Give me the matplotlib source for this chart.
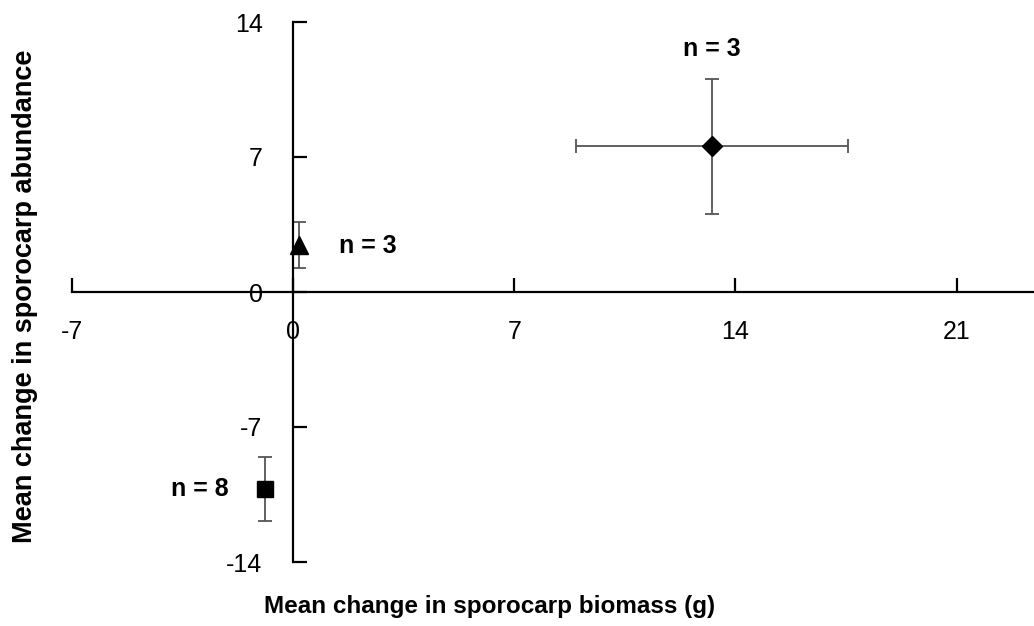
import numpy as np
import matplotlib.pyplot as plt

plt.rcParams['font.family'] = ['Liberation Sans', 'DejaVu Sans']

# data
biomass = [13.25, 0.2, -0.9]
biomass_err = [4.3, 0.0, 0.0]
abundance = [7.55, 2.45, -10.2]
abundance_err = [3.5, 1.2, 1.65]
markers = ['D', '^', 's']
n_labels = ['n = 3', 'n = 3', 'n = 8']
label_pos = [(13.25, 12.6), (2.37, 2.4), (-2.95, -10.2)]

fig = plt.figure(figsize=(10.34, 6.26), dpi=100)
ax = fig.add_axes([72/1034, 1 - 562/626, 1 - 72/1034, (562 - 22)/626])

for x, xe, y, ye, m in zip(biomass, biomass_err, abundance, abundance_err, markers):
    ax.errorbar(x, y, xerr=xe if xe > 0 else None, yerr=ye, fmt='none',
                ecolor='#555555', elinewidth=1.3, capsize=5, capthick=1.3, zorder=2)
    size = 13
    if m == 's':
        size = 12
    if m == 'D':
        size = 10
    ax.plot(x, y, marker=m, color='black', markersize=size, linestyle='none', zorder=3)

for (lx, ly), t in zip(label_pos, n_labels):
    ax.text(lx, ly, t, fontsize=18, fontweight='bold', ha='center', va='center')

ax.set_xlim(-7, 23.45)
ax.set_ylim(-14, 14)
ax.set_xticks([-7, 0, 7, 14, 21])
ax.set_yticks([-14, -7, 0, 7, 14])
ax.set_xticklabels(['-7', '0', '7', '14', '21'])
ax.set_yticklabels(['-14', '-7', '0', '7', '14'])

ax.spines['left'].set_position(('data', 0))
ax.spines['bottom'].set_position(('data', 0))
ax.spines['right'].set_visible(False)
ax.spines['top'].set_visible(False)
for s in ['left', 'bottom']:
    ax.spines[s].set_linewidth(1.6)

ax.tick_params(axis='x', direction='in', length=10, width=1.6, labelsize=18, pad=20)
ax.tick_params(axis='y', direction='in', length=10, width=1.6, labelsize=18, pad=22)

fig.text(490/1034, 1 - 607/626, 'Mean change in sporocarp biomass (g)', fontsize=17.5,
         fontweight='bold', ha='center', va='center')
fig.text(25/1034, 1 - 296/626, 'Mean change in sporocarp abundance', fontsize=19.5,
         fontweight='bold', ha='center', va='center', rotation=90)

fig.savefig('out.png', dpi=100)
